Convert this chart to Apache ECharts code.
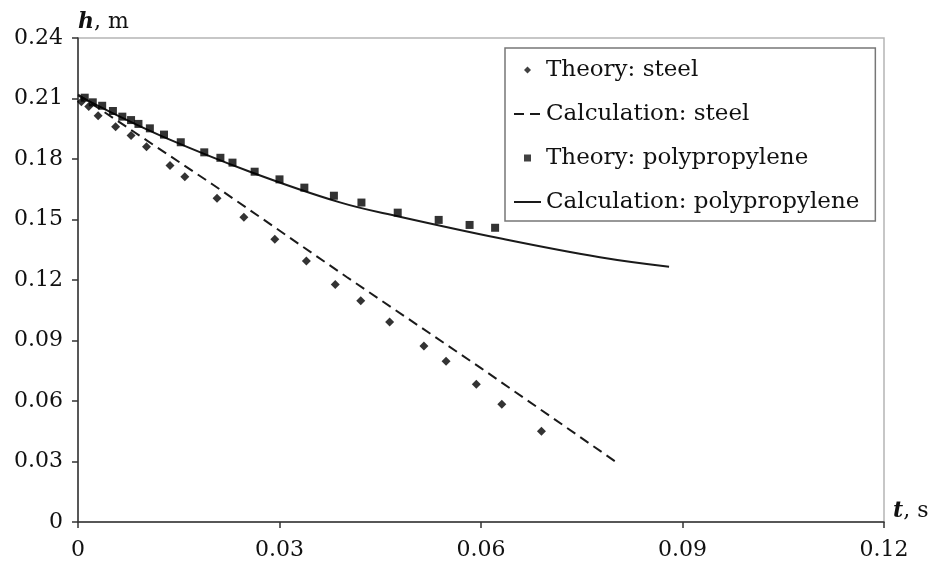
<!DOCTYPE html>
<html>
<head>
<meta charset="utf-8">
<script src="https://cdn.jsdelivr.net/npm/echarts@6/dist/echarts.min.js"></script>
<style>
  html, body { margin: 0; padding: 0; background: #fff; }
  #chart { width: 933px; height: 566px; }
</style>
</head>
<body>
<div id="chart"></div>
<script>
// Theory: steel (diamonds)
var steelTheoryT = [0.0005, 0.0016, 0.0030, 0.0056, 0.0079, 0.0102, 0.0137, 0.0159, 0.0207, 0.0247,
                    0.0293, 0.0340, 0.0383, 0.0421, 0.0464, 0.0515, 0.0548, 0.0593, 0.0631, 0.0690];
var steelTheoryH = [0.2084, 0.2060, 0.2015, 0.1960, 0.1916, 0.1861, 0.1768, 0.1712, 0.1605, 0.1511,
                    0.1402, 0.1294, 0.1178, 0.1097, 0.0992, 0.0873, 0.0797, 0.0683, 0.0584, 0.0450];
// Calculation: steel (dashed)
var steelCalcT = [0, 0.020, 0.040, 0.060, 0.080];
var steelCalcH = [0.212, 0.1675, 0.1215, 0.0763, 0.030];
// Theory: polypropylene (squares)
var ppTheoryT = [0.0010, 0.0022, 0.0036, 0.0052, 0.0066, 0.0079, 0.0090, 0.0107, 0.0128, 0.0153, 0.0188,
                 0.0212, 0.0230, 0.0263, 0.0300, 0.0337, 0.0381, 0.0422, 0.0476, 0.0537, 0.0583, 0.0621];
var ppTheoryH = [0.2104, 0.2081, 0.2064, 0.2038, 0.2010, 0.1993, 0.1974, 0.1952, 0.1921, 0.1883, 0.1833,
                 0.1806, 0.1782, 0.1737, 0.1699, 0.1658, 0.1618, 0.1584, 0.1534, 0.1498, 0.1473, 0.1459];
// Calculation: polypropylene (solid)
var ppCalcT = [0, 0.005, 0.0127, 0.0256, 0.039, 0.0479, 0.0628, 0.0777, 0.088];
var ppCalcH = [0.2115, 0.203, 0.191, 0.1737, 0.1585, 0.1514, 0.1407, 0.1313, 0.1266];

var seriesNames = ['Theory: steel', 'Calculation: steel', 'Theory: polypropylene', 'Calculation: polypropylene'];

function zip(a, b) {
    var res = [];
    for (var i = 0; i < a.length; i++) res.push([a[i], b[i]]);
    return res;
}
function tickFmt(v) {
    return v === 0 ? '0' : v.toFixed(2);
}

var font = 'DejaVu Serif';
var chart = echarts.init(document.getElementById('chart'));

var option = {
    backgroundColor: '#fff',
    animation: false,
    grid: {
        left: 78, right: 49, top: 38, bottom: 44,
        show: true,
        borderColor: '#b5b5b5',
        borderWidth: 1.5
    },
    legend: {
        orient: 'vertical',
        left: 505,
        top: 48,
        padding: [10, 16, 7, 8],
        itemGap: 20,
        itemWidth: 27,
        itemHeight: 7,
        symbolKeepAspect: true,
        borderColor: '#777',
        borderWidth: 1.5,
        textStyle: { fontFamily: font, fontSize: 23, color: '#111', lineHeight: 24 },
        data: [
            { name: seriesNames[0], icon: 'path://M0,-1L1,0L0,1L-1,0Z', itemStyle: { color: '#111' } },
            { name: seriesNames[1], itemStyle: { opacity: 0 } },
            { name: seriesNames[2], icon: 'path://M0,0L1,0L1,1L0,1Z', itemStyle: { color: '#111' } },
            { name: seriesNames[3], itemStyle: { opacity: 0 } }
        ]
    },
    xAxis: {
        type: 'value',
        min: 0, max: 0.12, interval: 0.03,
        name: '{i|t}, s',
        nameLocation: 'end',
        nameGap: 9,
        nameTextStyle: {
            fontFamily: font, fontSize: 22, color: '#111', verticalAlign: 'bottom', align: 'left',
            rich: { i: { fontFamily: font, fontSize: 22, fontStyle: 'italic', fontWeight: 'bold', color: '#111' } }
        },
        splitLine: { show: false },
        axisLine: { lineStyle: { color: '#333', width: 1.5 } },
        axisTick: { show: true, length: 6, lineStyle: { color: '#333', width: 1.5 } },
        axisLabel: { fontFamily: font, fontSize: 22, color: '#111', margin: 17, formatter: tickFmt }
    },
    yAxis: {
        type: 'value',
        min: 0, max: 0.24, interval: 0.03,
        name: '{i|h}, m',
        nameLocation: 'end',
        nameGap: 16,
        nameTextStyle: {
            fontFamily: font, fontSize: 22, color: '#111', align: 'left', verticalAlign: 'middle',
            rich: { i: { fontFamily: font, fontSize: 22, fontStyle: 'italic', fontWeight: 'bold', color: '#111' } }
        },
        splitLine: { show: false },
        axisLine: { lineStyle: { color: '#333', width: 1.5 } },
        axisTick: { show: true, length: 6, lineStyle: { color: '#333', width: 1.5 } },
        axisLabel: { fontFamily: font, fontSize: 22, color: '#111', margin: 15, formatter: tickFmt }
    },
    series: [
        {
            name: seriesNames[0],
            type: 'scatter',
            symbol: 'diamond',
            symbolSize: 9,
            itemStyle: { color: '#000' },
            data: zip(steelTheoryT, steelTheoryH),
            z: 3
        },
        {
            name: seriesNames[1],
            type: 'line',
            showSymbol: false,
            symbol: 'none',
            lineStyle: { color: '#1a1a1a', width: 2, type: [10, 6] },
            itemStyle: { color: '#1a1a1a' },
            data: zip(steelCalcT, steelCalcH),
            z: 2
        },
        {
            name: seriesNames[2],
            type: 'scatter',
            symbol: 'rect',
            symbolSize: 8,
            itemStyle: { color: '#000' },
            data: zip(ppTheoryT, ppTheoryH),
            z: 3
        },
        {
            name: seriesNames[3],
            type: 'line',
            showSymbol: false,
            symbol: 'none',
            smooth: 0.4,
            lineStyle: { color: '#1a1a1a', width: 2 },
            itemStyle: { color: '#1a1a1a' },
            data: zip(ppCalcT, ppCalcH),
            z: 2
        }
    ]
};
chart.setOption(option);
</script>
</body>
</html>
